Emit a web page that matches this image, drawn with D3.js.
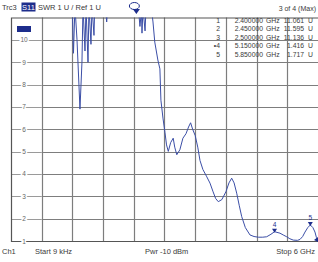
<!DOCTYPE html>
<html>
<head>
<meta charset="utf-8">
<script src="https://cdn.jsdelivr.net/npm/d3@7"></script>
<style>
body { margin:0; background:#fff; }
text { font-family: "Liberation Sans", Arial, sans-serif; }
</style>
</head>
<body>
<script>
// trace frequency (GHz) and SWR values (U)
var freqs = [0.009,0.3,0.6,0.9,1.15,1.192,1.221,1.25,1.29,1.348,1.387,1.407,1.446,1.466,1.505,1.524,1.563,1.583,1.622,1.642,
  1.7,1.85,1.87,1.89,2.1,2.3,2.38,2.4,2.45,2.5,2.52,2.55,2.56,2.58,2.62,2.64,2.7,2.75,2.775,2.81,2.87,2.91,2.93,2.97,
  3.01,3.04,3.074,3.12,3.17,3.2,3.24,3.3,3.36,3.42,3.47,3.51,3.55,3.6,3.65,3.694,3.75,3.82,3.889,3.95,4.0,4.051,4.12,
  4.2,4.26,4.313,4.36,4.411,4.46,4.509,4.58,4.671,4.75,4.833,4.92,4.997,5.08,5.15,5.257,5.32,5.388,5.45,5.517,5.6,
  5.648,5.7,5.746,5.8,5.85,5.9,5.941,5.97,6.0];
var swr = [14,18,16,14,13,12,9.4,11.5,10,6.9,9.0,11.5,9.5,11.5,9.0,11.5,9.8,11.5,10.2,12,
  11.8,11.3,10.8,11.4,12,11.5,11.1,11.061,11.595,11.136,10.6,11.3,10.3,11.4,10.4,11.5,12,11.3,10.8,9.9,9.1,8.7,7.3,6.5,
  5.84,5.3,5.01,5.4,5.6,5.2,4.86,5.08,5.6,5.8,6.1,6.29,6.0,5.72,5.2,4.6,4.2,3.9,3.59,3.2,2.9,2.76,2.85,
  3.2,3.6,3.81,3.6,3.14,2.6,2.09,1.6,1.27,1.2,1.17,1.17,1.19,1.3,1.416,1.35,1.27,1.19,1.1,1.04,1.03,
  1.07,1.2,1.4,1.6,1.717,1.6,1.4,1.15,1.0];

// marker table
var markerIds = ["1","2","3","\u20224","5"];
var markerFreqs = ["2.400000","2.450000","2.500000","5.150000","5.850000"];
var markerVals = ["11.061","11.595","11.136","1.416","1.717"];
var markerGHz = [2.4,2.45,2.5,5.15,5.85];
var markerU = [11.061,11.595,11.136,1.416,1.717];

var yTicks = [1,2,3,4,5,6,7,8,9,10];
var xGrid = [0.6,1.2,1.8,2.4,3.0,3.6,4.2,4.8,5.4];

var W = 318, H = 262;
var svg = d3.select("body").append("svg").attr("width",W).attr("height",H);

var x = d3.scaleLinear().domain([0.000009,6]).range([11,318]);
var y = d3.scaleLinear().domain([1,11]).range([241,17.5]);

var blue = "#3b4ea6", navy = "#1d2d8c", ink = "#3a3a3a";

// grid
svg.selectAll("line.vg").data(xGrid).enter().append("line")
  .attr("x1",function(d){ return Math.round(x(d))+0.5; }).attr("x2",function(d){ return Math.round(x(d))+0.5; })
  .attr("y1",y(11)).attr("y2",y(1)).attr("stroke","#7d7d7d").attr("stroke-width",1.2);
svg.selectAll("line.hg").data(yTicks.slice(1)).enter().append("line")
  .attr("x1",x(0.6)).attr("x2",318)
  .attr("y1",function(d){ return Math.round(y(d))+0.5; }).attr("y2",function(d){ return Math.round(y(d))+0.5; })
  .attr("stroke","#7d7d7d").attr("stroke-width",1.2);
svg.selectAll("line.hg0").data(yTicks.slice(1)).enter().append("line")
  .attr("x1",11).attr("x2",x(0.6))
  .attr("y1",function(d){ return Math.round(y(d))+0.5; }).attr("y2",function(d){ return Math.round(y(d))+0.5; })
  .attr("stroke","#9a9a9a").attr("stroke-width",1);
// border
svg.append("path").attr("d","M318,"+(y(11)+0.5)+"H11.5V"+(y(1)+0.5)+"H318")
  .attr("fill","none").attr("stroke","#555").attr("stroke-width",1.2);

// y labels
svg.selectAll("text.yl").data(yTicks).enter().append("text")
  .attr("x",24).attr("y",function(d){ return y(d)+2.5; })
  .attr("text-anchor","middle").attr("font-size",6.5).attr("fill","#666")
  .attr("stroke","#fff").attr("stroke-width",3).attr("paint-order","stroke")
  .text(function(d){ return d; });

// trace
svg.append("clipPath").attr("id","clip").append("rect")
  .attr("x",11).attr("y",y(11)).attr("width",307).attr("height",y(1)-y(11));
var line = d3.line().x(function(d,i){ return x(freqs[i]); }).y(function(d){ return y(d); });
svg.append("path").datum(swr).attr("d",line).attr("clip-path","url(#clip)")
  .attr("fill","none").attr("stroke",blue).attr("stroke-width",1);

// markers 4 and 5
[3,4].forEach(function(i){
  var mx = x(markerGHz[i]), my = y(markerU[i]);
  svg.append("path").attr("d","M"+(mx-2.5)+","+(my-3)+"L"+(mx+2.5)+","+(my-3)+"L"+mx+","+(my+1)+"Z").attr("fill",navy);
  svg.append("text").attr("x",mx).attr("y",my-5).attr("text-anchor","middle")
    .attr("font-size",6.5).attr("fill",navy).text(i+1);
});
// end of trace blob
svg.append("path").attr("d","M"+(x(6)-4)+","+(y(1)-1)+"L"+x(6)+","+(y(1)-4)+"L"+x(6)+","+(y(1)+1)+"Z").attr("fill",navy);
// markers 1-3 above the top (off scale)
svg.append("ellipse").attr("cx",x(2.45)-2).attr("cy",6).attr("rx",5).attr("ry",3.5)
  .attr("fill","none").attr("stroke",navy).attr("stroke-width",1);
svg.append("path").attr("d","M"+(x(2.4)-1)+",9L"+(x(2.5)+1)+",9L"+x(2.45)+",14Z").attr("fill",navy);

// trace box
svg.append("rect").attr("x",17).attr("y",26).attr("width",14).attr("height",6).attr("fill",navy);

// header
svg.append("text").attr("x",2).attr("y",10).attr("font-size",7.5).attr("fill",ink).text("Trc3");
svg.append("rect").attr("x",21.5).attr("y",2.5).attr("width",14).attr("height",9).attr("fill",navy);
svg.append("text").attr("x",28.5).attr("y",10).attr("text-anchor","middle").attr("font-size",7.5).attr("fill","#fff").text("S11");
svg.append("text").attr("x",38).attr("y",10).attr("font-size",7.5).attr("fill",ink).text("SWR  1 U /  Ref 1 U");
svg.append("text").attr("x",316).attr("y",11).attr("text-anchor","end").attr("font-size",7).attr("fill",ink).text("3 of 4 (Max)");

// marker table
var rows = svg.selectAll("g.mr").data(markerIds).enter().append("g")
  .attr("transform",function(d,i){ return "translate(0,"+(22.5+i*8.6)+")"; })
  .attr("font-size",6.8).attr("fill",ink);
rows.append("text").attr("x",220).attr("text-anchor","end").text(function(d){ return d; });
rows.append("text").attr("x",263).attr("text-anchor","end").text(function(d,i){ return markerFreqs[i]; });
rows.append("text").attr("x",266).text("GHz");
rows.append("text").attr("x",304).attr("text-anchor","end").text(function(d,i){ return markerVals[i]; });
rows.append("text").attr("x",308).text("U");

// footer
svg.append("text").attr("x",2).attr("y",254).attr("font-size",7.5).attr("fill",ink).text("Ch1");
svg.append("text").attr("x",35).attr("y",254).attr("font-size",7.5).attr("fill",ink).text("Start  9 kHz");
svg.append("text").attr("x",145).attr("y",254).attr("font-size",7.5).attr("fill",ink).text("Pwr  -10 dBm");
svg.append("text").attr("x",315).attr("y",254).attr("text-anchor","end").attr("font-size",7.5).attr("fill",ink).text("Stop  6 GHz");
</script>
</body>
</html>
